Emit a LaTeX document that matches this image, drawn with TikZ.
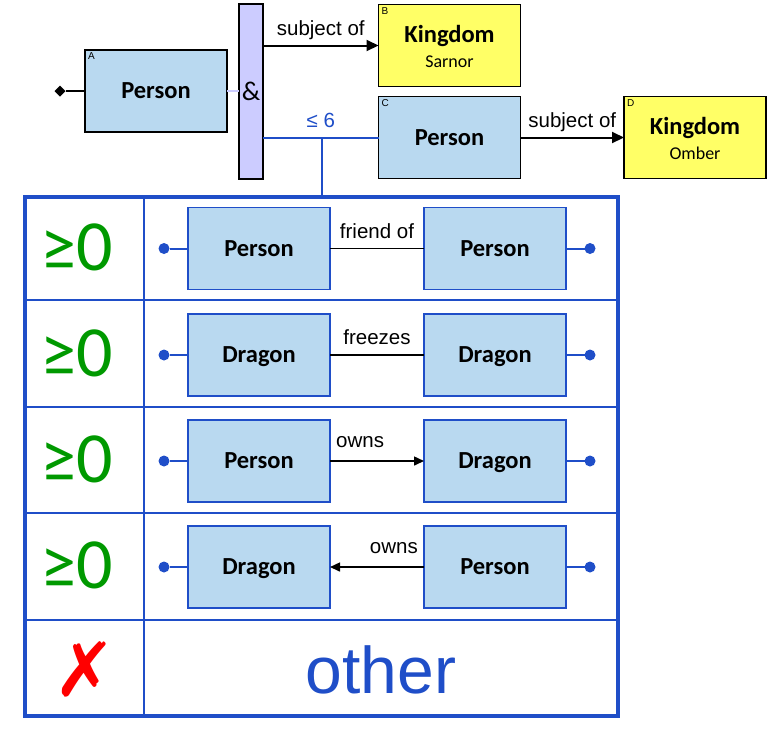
\documentclass[tikz,border=0pt]{standalone}
\usepackage{fontspec}
\setmainfont{Carlito}
\newfontfamily\arialf{Liberation Sans}
\newfontfamily\dejavuf{DejaVu Sans}
\usetikzlibrary{arrows.meta,shapes.geometric}
\definecolor{boxblue}{RGB}{185,217,240}
\definecolor{kyellow}{RGB}{255,255,102}
\definecolor{lav}{RGB}{204,204,255}
\definecolor{tblue}{RGB}{31,78,200}
\definecolor{okgreen}{RGB}{0,153,0}
\begin{document}
\begin{tikzpicture}[x=1pt,y=-1pt,
  every node/.style={inner sep=0pt,outer sep=0pt},
  ent/.style={rectangle,draw=black,line width=1.8pt,fill=boxblue,minimum width=142pt,minimum height=82pt,font=\bfseries\fontsize{24.5}{24.5}\selectfont,text height=15.5pt,text depth=0pt},
  king/.style={ent,fill=kyellow},
  ktitle/.style={anchor=base,font=\bfseries\fontsize{24.5}{24.5}\selectfont},
  ksub/.style={anchor=base,font=\fontsize{18}{18}\selectfont},
  ient/.style={ent,draw=tblue,line width=1.6pt},
  corner/.style={font=\arialf\fontsize{10}{10}\selectfont,anchor=north west},
  rel/.style={font=\arialf\fontsize{20.5}{20.5}\selectfont},
  arr/.style={line width=2pt,-{Triangle[length=12pt,width=11pt]}},
  rline/.style={line width=1.5pt},
  rarr/.style={line width=1.5pt,-{Triangle[length=10pt,width=9pt]}},
  bline/.style={draw=tblue,line width=2pt},
  dot/.style={circle,fill=tblue,minimum size=11pt},
  cnt/.style={anchor=base,text=okgreen,font=\fontsize{72}{72}\selectfont},
]
\useasboundingbox (0,0) rectangle (767,748);

% top part
\node[ent] (A) at (156,91) {Person};
\node[corner] (Al) at ([shift={(3pt,-3pt)}]A.north west) {A};
\node[diamond,fill=black,minimum width=11pt,minimum height=11pt] (pin) at (60,91) {};
\draw[line width=2pt] (pin) -- (A.west);

\node[rectangle,draw=black,line width=2pt,fill=lav,minimum width=24pt,minimum height=175pt,font=\fontsize{27}{27}\selectfont] (and) at (251,91.5) {\&};
\draw[draw=lav,line width=2pt] (A.east) -- (and.west |- A.east);

\node[king] (B) at (449.5,45.5) {};
\node[corner] (Bl) at ([shift={(3pt,-3pt)}]B.north west) {B};
\node[ktitle] (Bt) at (449.5,42) {Kingdom};
\node[ksub] (Bs) at (449.5,67) {Sarnor};

\node[ent] (C) at (449.5,137.5) {Person};
\node[corner] (Cl) at ([shift={(3pt,-3pt)}]C.north west) {C};

\node[king] (D) at (695,137.5) {};
\node[corner] (Dl) at ([shift={(3pt,-3pt)}]D.north west) {D};
\node[ktitle] (Dt) at (695,134) {Kingdom};
\node[ksub] (Ds) at (695,159) {Omber};

\draw[arr] (and.east |- B.west) -- (B.west) node[rel,midway,above=6pt] {subject of};
\draw[arr] (C.east) -- (D.west) node[rel,midway,above=6pt] {subject of};
\draw[bline] (and.east |- C.west) -- (C.west) node[rel,text=tblue,midway,above=10pt] {≤ 6};

% table
\node[rectangle,draw=tblue,line width=4pt,minimum width=593pt,minimum height=519pt] (tbl) at (321.5,456.5) {};
\coordinate (tap) at (tbl.north |- C.west);
\draw[bline] (tap) -- (tbl.north);
\draw[bline] (144,197) -- (144,716);
\foreach \yy in {300,407,513,620} \draw[bline] (25,\yy) -- (618,\yy);

% row 1
\node[cnt] (n1) at (77,270) {≥0};
\node[ient] (r1a) at (259,248.5) {Person};
\node[ient] (r1b) at (495,248.5) {Person};
\node[dot] (r1l) at (164,248.5) {};
\node[dot] (r1r) at (590,248.5) {};
\draw[bline] (r1l) -- (r1a); \draw[bline] (r1b) -- (r1r);
\draw[rline] (r1a) -- (r1b) node[rel,midway,above=10pt] {friend of};

% row 2
\node[cnt] (n2) at (77,376) {≥0};
\node[ient] (r2a) at (259,355) {Dragon};
\node[ient] (r2b) at (495,355) {Dragon};
\node[dot] (r2l) at (164,355) {};
\node[dot] (r2r) at (590,355) {};
\draw[bline] (r2l) -- (r2a); \draw[bline] (r2b) -- (r2r);
\draw[rline] (r2a) -- (r2b) node[rel,midway,above=10pt] {freezes};

% row 3
\node[cnt] (n3) at (77,482) {≥0};
\node[ient] (r3a) at (259,461) {Person};
\node[ient] (r3b) at (495,461) {Dragon};
\node[dot] (r3l) at (164,461) {};
\node[dot] (r3r) at (590,461) {};
\draw[bline] (r3l) -- (r3a); \draw[bline] (r3b) -- (r3r);
\draw[rarr] (r3a) -- (r3b) node[rel,pos=0.32,above=13pt] {owns};

% row 4
\node[cnt] (n4) at (77,588) {≥0};
\node[ient] (r4a) at (259,567) {Dragon};
\node[ient] (r4b) at (495,567) {Person};
\node[dot] (r4l) at (164,567) {};
\node[dot] (r4r) at (590,567) {};
\draw[bline] (r4l) -- (r4a); \draw[bline] (r4b) -- (r4r);
\draw[rarr] (r4b) -- (r4a) node[rel,pos=0.32,above=13pt] {owns};

% row 5
\node[text=red,font=\dejavuf\fontsize{75}{75}\selectfont] (nx) at (85,669) {✗};
\node[text=tblue,font=\arialf\fontsize{66}{66}\selectfont] (oth) at (381,670) {other};
\end{tikzpicture}
\end{document}
